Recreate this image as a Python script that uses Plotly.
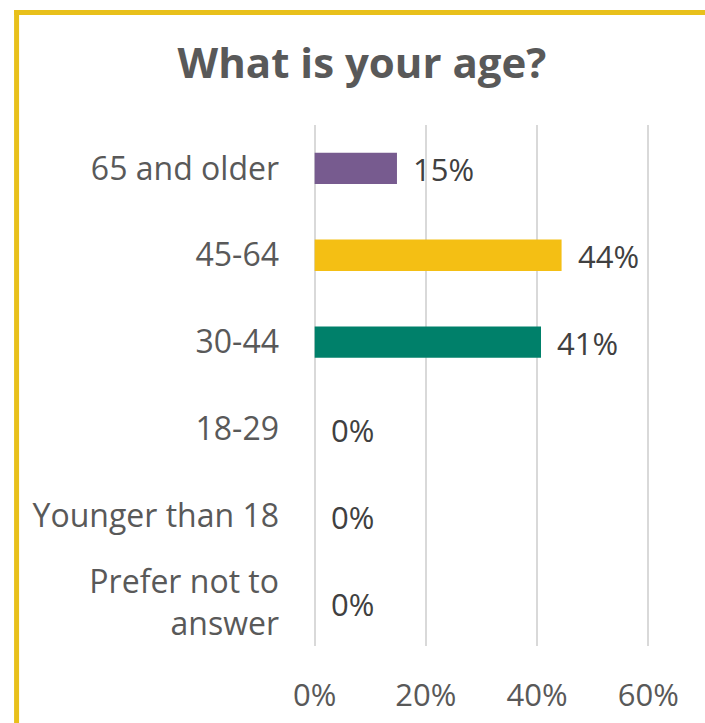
import plotly.graph_objects as go

categories = ["Prefer not to<br>answer", "Younger than 18", "18-29", "30-44", "45-64", "65 and older"]
values = [0.0, 0.0, 0.0, 40.7, 44.4, 14.8]
labels = ["0%", "0%", "0%", "41%", "44%", "15%"]
colors = ["#7F7F7F", "#7F7F7F", "#7F7F7F", "#00806A", "#F4BF14", "#775B8F"]
tick_vals = [0, 20, 40, 60]
tick_text = ["0%", "20%", "40%", "60%"]

OFF = 0  # page body margin removed below
W, H = 705, 723
xr = [-0.3, 60.3]
ppu = (648 - 315) / 60.0
left_px = 315 - (0 - xr[0]) * ppu
right_px = 648 + (xr[1] - 60) * ppu
top_px, bot_px = 125, 646
ml = left_px - OFF
mr = W - (right_px - OFF)
mt = top_px - OFF
mb = H - (bot_px - OFF)

fig = go.Figure()
fig.add_trace(go.Bar(
    y=categories, x=values, orientation="h",
    marker=dict(color=colors, line=dict(width=0)),
    width=0.36, hoverinfo="skip",
))

for c, v, t in zip(categories, values, labels):
    fig.add_annotation(x=v, y=c, text=t, showarrow=False, xanchor="left",
                       xshift=14, yshift=-1,
                       font=dict(family="Open Sans", size=31, color="#404040"))

pw, ph = right_px - left_px, bot_px - top_px
def px_x(p):
    return (p - left_px) / pw
def px_y(p):
    return (bot_px - p) / ph
border = "#E8C01B"
fig.add_shape(type="line", xref="paper", yref="paper",
              x0=px_x(15), x1=px_x(730), y0=px_y(12.5), y1=px_y(12.5),
              line=dict(color=border, width=5))
fig.add_shape(type="line", xref="paper", yref="paper",
              x0=px_x(17.5), x1=px_x(17.5), y0=px_y(10), y1=px_y(750),
              line=dict(color=border, width=5))

fig.update_layout(
    width=W, height=H,
    margin=dict(l=ml, r=mr, t=mt, b=mb, autoexpand=False),
    paper_bgcolor="white", plot_bgcolor="white",
    showlegend=False,
    title=dict(text="<b>What is your age?</b>", x=(362 - OFF) / W, xanchor="center",
               y=1 - (63 - OFF) / H, yanchor="middle",
               font=dict(family="Open Sans", size=42, color="#595959")),
    xaxis=dict(range=xr, tickvals=tick_vals, ticktext=tick_text,
               showgrid=True, gridcolor="#D9D9D9", gridwidth=2,
               zeroline=False, showline=False, ticks="",
               ticklabelstandoff=28,
               tickfont=dict(family="Open Sans", size=31, color="#595959"),
               fixedrange=True),
    yaxis=dict(categoryorder="array", categoryarray=categories,
               showgrid=False, zeroline=False, showline=False, ticks="",
               ticklabelstandoff=33,
               tickfont=dict(family="Open Sans", size=32, color="#595959"),
               fixedrange=True),
)

fig.write_html("out.html", config={"displayModeBar": False},
               post_script="document.body.style.margin='0';document.body.style.overflow='hidden';")
